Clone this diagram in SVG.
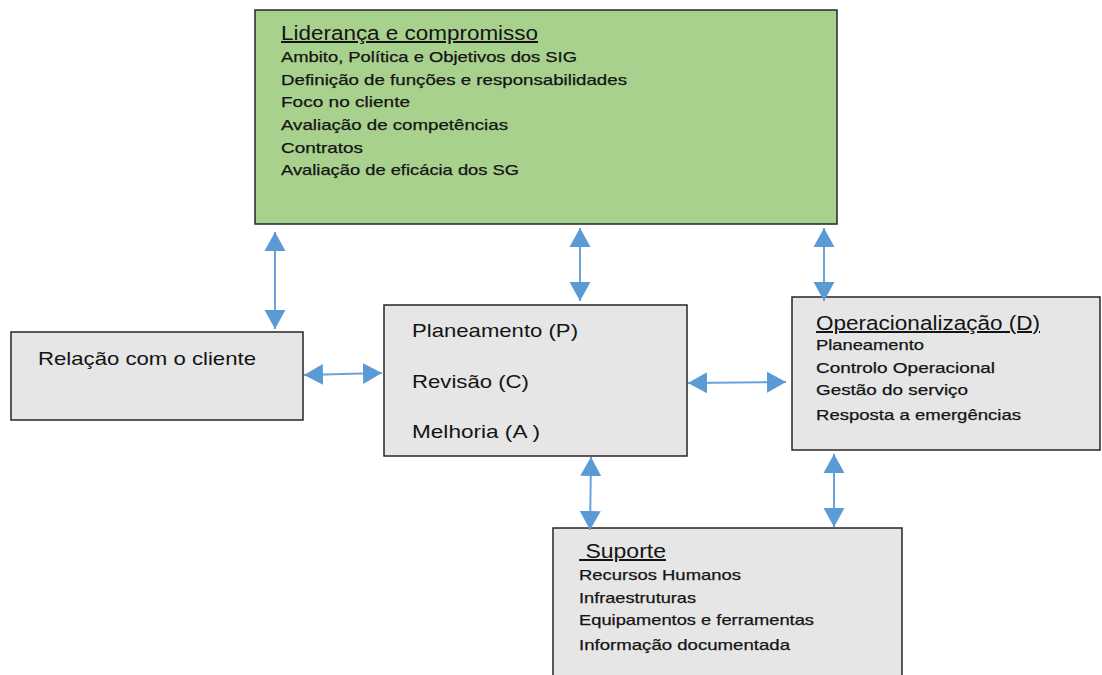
<svg xmlns="http://www.w3.org/2000/svg" width="1102" height="675" viewBox="0 0 1102 675">
  <style>
    .box { stroke: #262626; stroke-width: 1.5; }
    .grey { fill: #e6e6e6; }
    .green { fill: #a9d18e; }
    text { font-family: "Liberation Sans", Arial, sans-serif; fill: #141414; }
    .title { font-size: 20px; text-decoration: underline; }
    .big { font-size: 19px; }
    .item { font-size: 15px; stroke: #141414; stroke-width: 0.25; }
    .link { stroke: #6aa3d9; stroke-width: 2; fill: none; marker-start: url(#head); marker-end: url(#head); }
  </style>
  <defs>
    <marker id="head" markerUnits="userSpaceOnUse" markerWidth="20" markerHeight="22" refX="19" refY="11" orient="auto-start-reverse" viewBox="0 0 20 22">
      <path d="M0,0.5 L19,11 L0,21.5 z" fill="#5b9bd5"/>
    </marker>
  </defs>

  <!-- leadership and commitment -->
  <g id="lideranca">
    <rect class="box green" x="255" y="10" width="582" height="214"/>
    <text class="title" x="281" y="40" textLength="257" lengthAdjust="spacingAndGlyphs">Liderança e compromisso</text>
    <text class="item" x="281" y="62" textLength="296" lengthAdjust="spacingAndGlyphs">Ambito, Política e Objetivos dos SIG</text>
    <text class="item" x="281" y="85" textLength="346" lengthAdjust="spacingAndGlyphs">Definição de funções e responsabilidades</text>
    <text class="item" x="281" y="107" textLength="129" lengthAdjust="spacingAndGlyphs">Foco no cliente</text>
    <text class="item" x="281" y="130" textLength="227" lengthAdjust="spacingAndGlyphs">Avaliação de competências</text>
    <text class="item" x="281" y="153" textLength="82" lengthAdjust="spacingAndGlyphs">Contratos</text>
    <text class="item" x="281" y="175" textLength="238" lengthAdjust="spacingAndGlyphs">Avaliação de eficácia dos SG</text>
  </g>

  <!-- customer relationship -->
  <g id="relacao">
    <rect class="box grey" x="11" y="332" width="292" height="88"/>
    <text class="big" x="38" y="365" textLength="218" lengthAdjust="spacingAndGlyphs">Relação com o cliente</text>
  </g>

  <!-- PDCA core -->
  <g id="pdca">
    <rect class="box grey" x="384" y="305" width="303" height="151"/>
    <text class="big" x="412" y="337" textLength="166" lengthAdjust="spacingAndGlyphs">Planeamento (P)</text>
    <text class="big" x="412" y="388" textLength="117" lengthAdjust="spacingAndGlyphs">Revisão (C)</text>
    <text class="big" x="412" y="438" textLength="128" lengthAdjust="spacingAndGlyphs">Melhoria (A )</text>
  </g>

  <!-- operation -->
  <g id="operacionalizacao">
    <rect class="box grey" x="792" y="297" width="308" height="153"/>
    <text class="title" x="816" y="330" textLength="224" lengthAdjust="spacingAndGlyphs">Operacionalização (D)</text>
    <text class="item" x="816" y="350" textLength="108" lengthAdjust="spacingAndGlyphs">Planeamento</text>
    <text class="item" x="816" y="373" textLength="179" lengthAdjust="spacingAndGlyphs">Controlo Operacional</text>
    <text class="item" x="816" y="395" textLength="152" lengthAdjust="spacingAndGlyphs">Gestão do serviço</text>
    <text class="item" x="816" y="420" textLength="205" lengthAdjust="spacingAndGlyphs">Resposta a emergências</text>
  </g>

  <!-- support -->
  <g id="suporte">
    <rect class="box grey" x="553" y="528" width="349" height="160"/>
    <text class="title" x="579" y="558" textLength="87" lengthAdjust="spacingAndGlyphs">&#160;Suporte</text>
    <text class="item" x="579" y="580" textLength="162" lengthAdjust="spacingAndGlyphs">Recursos Humanos</text>
    <text class="item" x="579" y="603" textLength="117" lengthAdjust="spacingAndGlyphs">Infraestruturas</text>
    <text class="item" x="579" y="625" textLength="235" lengthAdjust="spacingAndGlyphs">Equipamentos e ferramentas</text>
    <text class="item" x="579" y="650" textLength="211" lengthAdjust="spacingAndGlyphs">Informação documentada</text>
  </g>

  <!-- two-way connectors -->
  <g id="connectors">
    <line class="link" x1="275" y1="232" x2="275" y2="329"/>
    <line class="link" x1="580" y1="228" x2="580" y2="301"/>
    <line class="link" x1="824" y1="228" x2="824" y2="301"/>
    <line class="link" x1="304" y1="375" x2="382" y2="373"/>
    <line class="link" x1="688" y1="383" x2="786" y2="382"/>
    <line class="link" x1="591" y1="457" x2="590" y2="530"/>
    <line class="link" x1="834" y1="454" x2="834" y2="527"/>
  </g>
</svg>
